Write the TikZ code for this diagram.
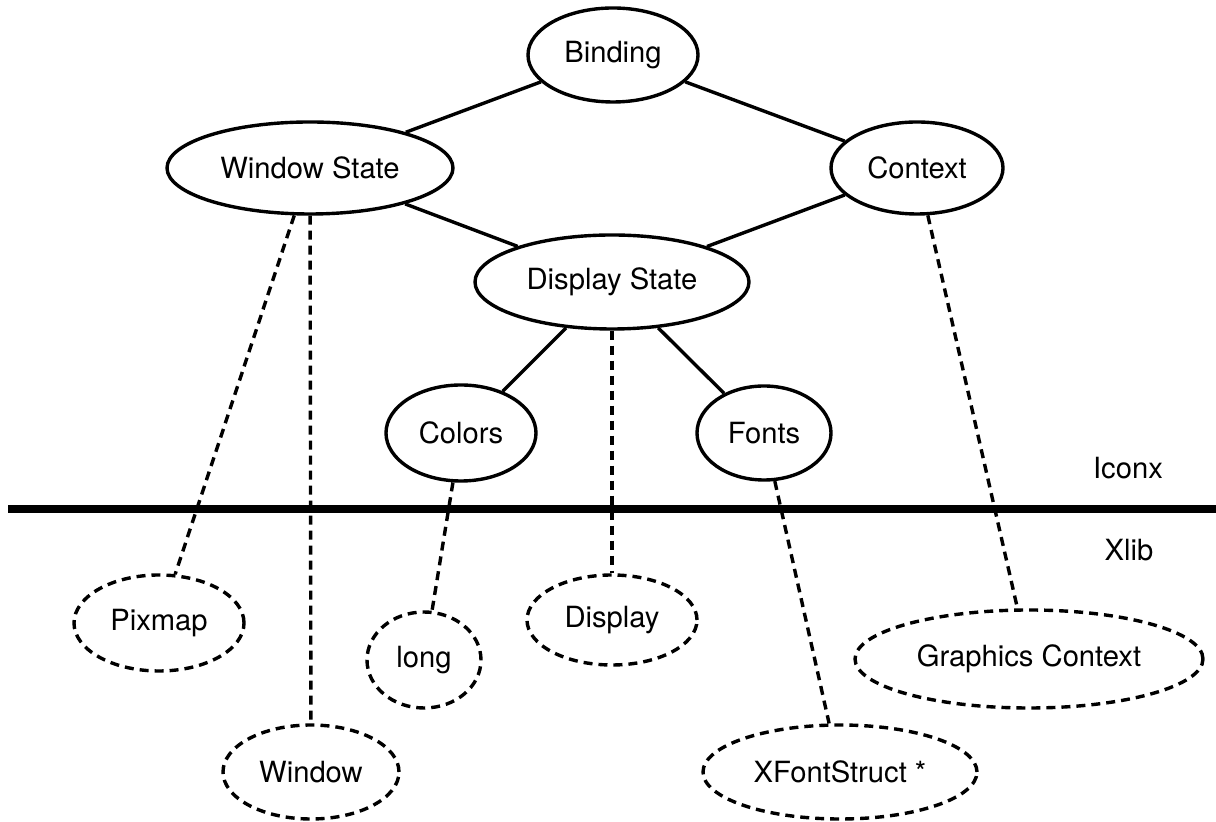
\documentclass[tikz,border=0pt]{standalone}
\usepackage{fontspec}
\setmainfont{TeX Gyre Heros}
\usetikzlibrary{shapes.geometric}
\begin{document}
\begin{tikzpicture}[
      x=0.5pt, y=-0.5pt,
      every node/.style={font=\fontsize{14.6}{17}\selectfont},
      iconx/.style={draw, ellipse, line width=1.7pt, inner sep=0pt},
      xlib/.style={iconx, dash pattern=on 4.5pt off 3pt},
      link/.style={draw, line width=1.7pt},
      maps/.style={link, dash pattern=on 4.5pt off 3pt},
      layer/.style={draw, line width=4pt}
    ]
      \useasboundingbox (0,0) rectangle (1216,822);
      \node[iconx, minimum width=85pt, minimum height=47pt] (binding) at (613,55) {Binding};
      \node[iconx, minimum width=143pt, minimum height=46pt] (winstate) at (310,168) {Window State};
      \node[iconx, minimum width=86pt, minimum height=46pt] (context) at (917,168) {Context};
      \node[iconx, minimum width=137pt, minimum height=47pt] (dispstate) at (612,282) {Display State};
      \node[iconx, minimum width=75pt, minimum height=48pt] (colors) at (461,433) {Colors};
      \node[iconx, minimum width=67pt, minimum height=47pt] (fonts) at (764,433) {Fonts};
      \node[xlib, minimum width=85pt, minimum height=48pt] (pixmap) at (159,623) {Pixmap};
      \node[xlib, minimum width=57pt, minimum height=48pt] (long) at (424,660) {long};
      \node[xlib, minimum width=85pt, minimum height=45pt] (display) at (612,620) {Display};
      \node[xlib, minimum width=174pt, minimum height=49pt] (gc) at (1029,659) {Graphics Context};
      \node[xlib, minimum width=88pt, minimum height=47pt] (window) at (311,772) {Window};
      \node[xlib, minimum width=137pt, minimum height=47pt] (xfont) at (840,772) {XFontStruct *};
      \coordinate (left) at (8,509);
      \coordinate (right) at (1216,509);
      \node (iconxlbl) at (1128,468) {Iconx};
      \node (xliblbl) at (1129,550) {Xlib};
      \draw[layer] (left) -- (right);
      \draw[link] (binding) -- (winstate);
      \draw[link] (binding) -- (context);
      \draw[link] (winstate) -- (dispstate);
      \draw[link] (context) -- (dispstate);
      \draw[link] (dispstate) -- (colors);
      \draw[link] (dispstate) -- (fonts);
      \draw[maps] (winstate) -- (pixmap);
      \draw[maps] (winstate) -- (window);
      \draw[maps] (dispstate) -- (display);
      \draw[maps] (colors) -- (long);
      \draw[maps] (fonts) -- (xfont);
      \draw[maps] (context) -- (gc);
    \end{tikzpicture}
\end{document}
